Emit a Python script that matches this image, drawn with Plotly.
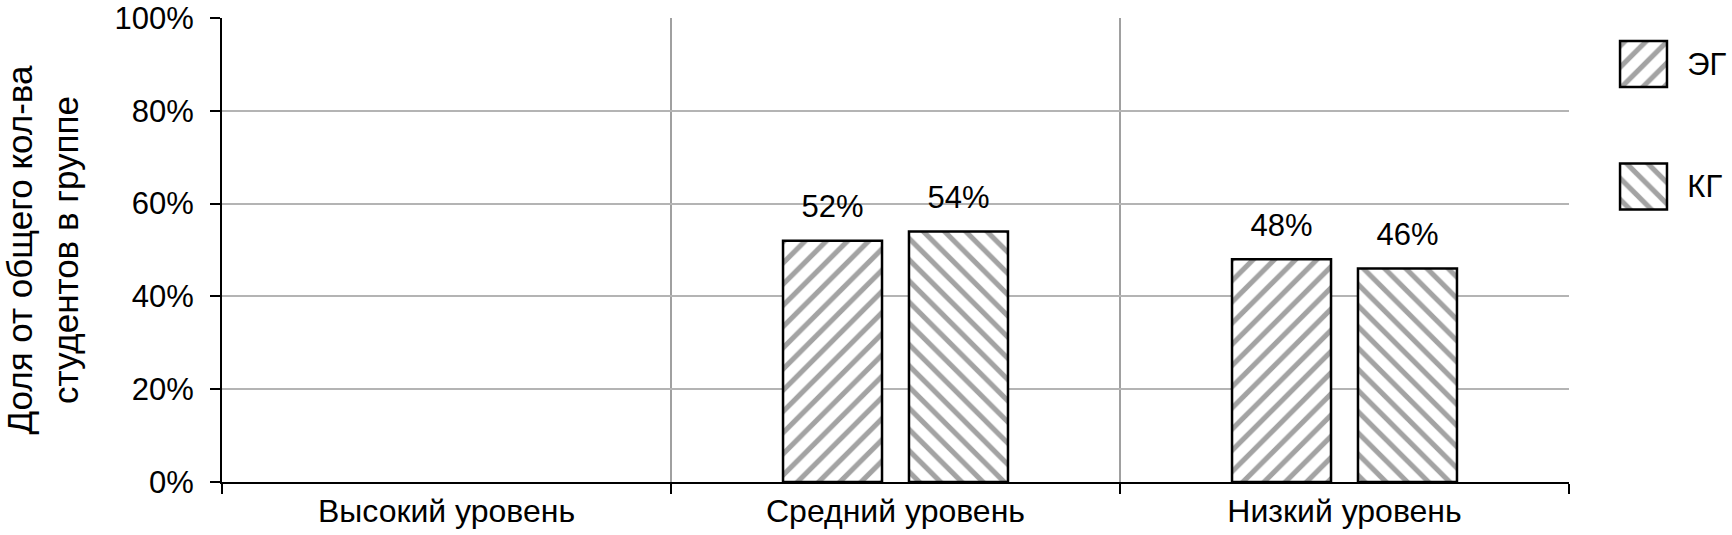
import plotly.graph_objects as go

categories = ["Высокий уровень", "Средний уровень", "Низкий уровень"]
eg_values = [None, 52, 48]
kg_values = [None, 54, 46]
series_names = ["ЭГ", "КГ"]
series_patterns = ["/", "\\"]
legend_key = [1, 1]
y_ticks = [0, 20, 40, 60, 80, 100]
y_tick_labels = [f"{t}%" for t in y_ticks]

FONT = "Liberation Sans, Arial, sans-serif"
STRIPE = "#a3a3a3"
PLOT_W = 1347 / 1510


def pattern(shape):
    return dict(shape=shape, fgcolor=STRIPE, fgopacity=1, bgcolor="white",
                size=15, solidity=0.34, fillmode="replace")


def bar_trace(name, values, shape, group):
    return go.Bar(
        x=categories, y=values, name=name, offsetgroup=group,
        marker=dict(color="white", line=dict(color="black", width=2.5),
                    pattern=pattern(shape)),
        showlegend=False,
    )


def label_trace(values, group):
    return go.Scatter(
        x=categories, y=values, offsetgroup=group, mode="markers+text",
        text=[f"{v}%" if v is not None else "" for v in values],
        textposition="top center", cliponaxis=False,
        textfont=dict(size=31, color="black", family=FONT),
        marker=dict(size=24, opacity=0), hoverinfo="skip", showlegend=False,
    )


fig = go.Figure([
    bar_trace(series_names[0], eg_values, series_patterns[0], "eg"),
    bar_trace(series_names[1], kg_values, series_patterns[1], "kg"),
    label_trace(eg_values, "eg"),
    label_trace(kg_values, "kg"),
])

# legend keys drawn as a small side chart so the boxes get their real size
fig.add_trace(go.Bar(
    x=legend_key, y=series_names, orientation="h", width=0.3755,
    marker=dict(color="white", line=dict(color="black", width=2.5),
                pattern=dict(pattern(""), shape=series_patterns)),
    xaxis="x2", yaxis="y2", hoverinfo="skip", showlegend=False,
))

fig.update_layout(
    width=1732, height=535,
    margin=dict(l=222, r=0, t=18, b=53),
    paper_bgcolor="white", plot_bgcolor="white",
    font=dict(family=FONT, size=31, color="black"),
    barmode="group", bargap=0.439, bargroupgap=0.214,
    scattermode="group", scattergap=0.439,
    xaxis=dict(
        domain=[0, PLOT_W], type="category", tickson="boundaries",
        automargin=False,
        showline=True, linecolor="black", linewidth=2,
        ticks="outside", ticklen=10, tickwidth=2, tickcolor="black",
        showgrid=True, gridcolor="#a0a0a0", gridwidth=2,
        tickfont=dict(size=32),
    ),
    yaxis=dict(
        range=[0, 100], tickvals=y_ticks, ticktext=y_tick_labels,
        automargin=False, ticklabeloverflow="allow",
        showline=True, linecolor="black", linewidth=2,
        ticks="outside", ticklen=10, tickwidth=2, tickcolor="black",
        ticklabelstandoff=10,
        showgrid=True, gridcolor="#b4b4b4", gridwidth=2, zeroline=False,
        tickfont=dict(size=31),
        title=dict(text="Доля от общего кол-ва<br>студентов в группе",
                   font=dict(size=35), standoff=58),
    ),
    xaxis2=dict(domain=[0.9243, 0.9585], range=[-0.05, 1.05], anchor="y2",
                visible=False, automargin=False),
    yaxis2=dict(domain=[0.5577, 0.980], range=[1.3, -0.3], anchor="x2",
                type="category", side="right", showgrid=False,
                automargin=False, ticklabeloverflow="allow",
                showline=False, zeroline=False, ticks="",
                ticklabelstandoff=17, tickfont=dict(size=31)),
)

# drop the default 8px page margin so the figure fills the window exactly
fig.write_html("out.html", config={"displayModeBar": False},
               post_script="document.body.style.margin = '0px';")
